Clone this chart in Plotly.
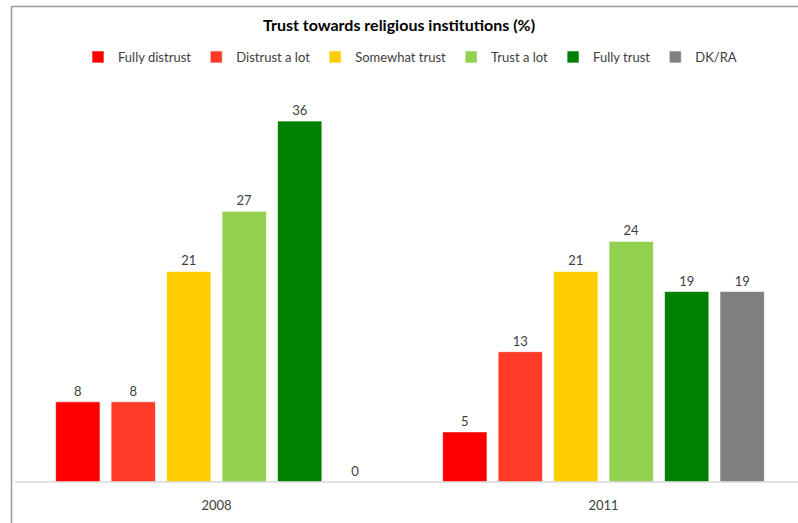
import plotly.graph_objects as go

# Survey results: trust towards religious institutions, by year (%)
years = ["2008", "2011"]
responses = ["Fully distrust", "Distrust a lot", "Somewhat trust",
             "Trust a lot", "Fully trust", "DK/RA"]
values_2008 = [8, 8, 21, 27, 36, 0]
values_2011 = [5, 13, 21, 24, 19, 19]
colors = ["#FF0000", "#FF3B28", "#FFCC00", "#92D050", "#008000", "#808080"]

W, H = 798, 523
ML, MR, MT, MB = 23, 1, 81, 41
PW, PH = W - ML - MR, H - MT - MB

FONT = "Lato, 'Open Sans', sans-serif"

fig = go.Figure()
for i, name in enumerate(responses):
    vals = [values_2008[i], values_2011[i]]
    fig.add_trace(go.Bar(
        x=years, y=vals, name=name,
        marker=dict(color=colors[i], line=dict(color="rgba(255,255,255,0.6)", width=1)),
        text=[str(v) for v in vals], textposition="outside",
        textfont=dict(size=13, color="#404040", family=FONT),
        cliponaxis=False,
    ))


def px_x(p):
    return (p - ML) / PW


def px_y(p):
    return 1 - (p - MT) / PH


fig.update_layout(
    width=W, height=H,
    margin=dict(l=ML, r=MR, t=MT, b=MB),
    paper_bgcolor="white", plot_bgcolor="white",
    barmode="group", bargap=0.14, bargroupgap=0.2,
    font=dict(family=FONT, size=13, color="#404040"),
    title=dict(text="<b>Trust towards religious institutions (%)</b>",
               x=0.5, xanchor="center", y=1 - 25 / H, yanchor="middle",
               font=dict(size=16, color="#000000", family=FONT)),
    legend=dict(orientation="h", x=0.5, xanchor="center",
                y=px_y(57), yanchor="middle",
                font=dict(size=13, color="#404040", family=FONT),
                itemwidth=30, traceorder="normal"),
    xaxis=dict(showline=False, ticks="", ticklabelstandoff=14,
               tickfont=dict(size=13, color="#404040")),
    yaxis=dict(range=[0, 40], visible=False, showgrid=False, zeroline=False),
    shapes=[
        # category axis baseline
        dict(type="line", xref="paper", yref="paper",
             x0=px_x(15), x1=px_x(798), y0=px_y(482), y1=px_y(482),
             line=dict(color="#D9D9D9", width=1.5)),
        # chart area frame (left and top edges)
        dict(type="line", xref="paper", yref="paper",
             x0=px_x(11.5), x1=px_x(11.5), y0=px_y(523), y1=px_y(6.5),
             line=dict(color="#9A9A9A", width=1.5)),
        dict(type="line", xref="paper", yref="paper",
             x0=px_x(11.5), x1=px_x(798), y0=px_y(6.5), y1=px_y(6.5),
             line=dict(color="#9A9A9A", width=1.5)),
    ],
)

fig.write_html("out.html")
